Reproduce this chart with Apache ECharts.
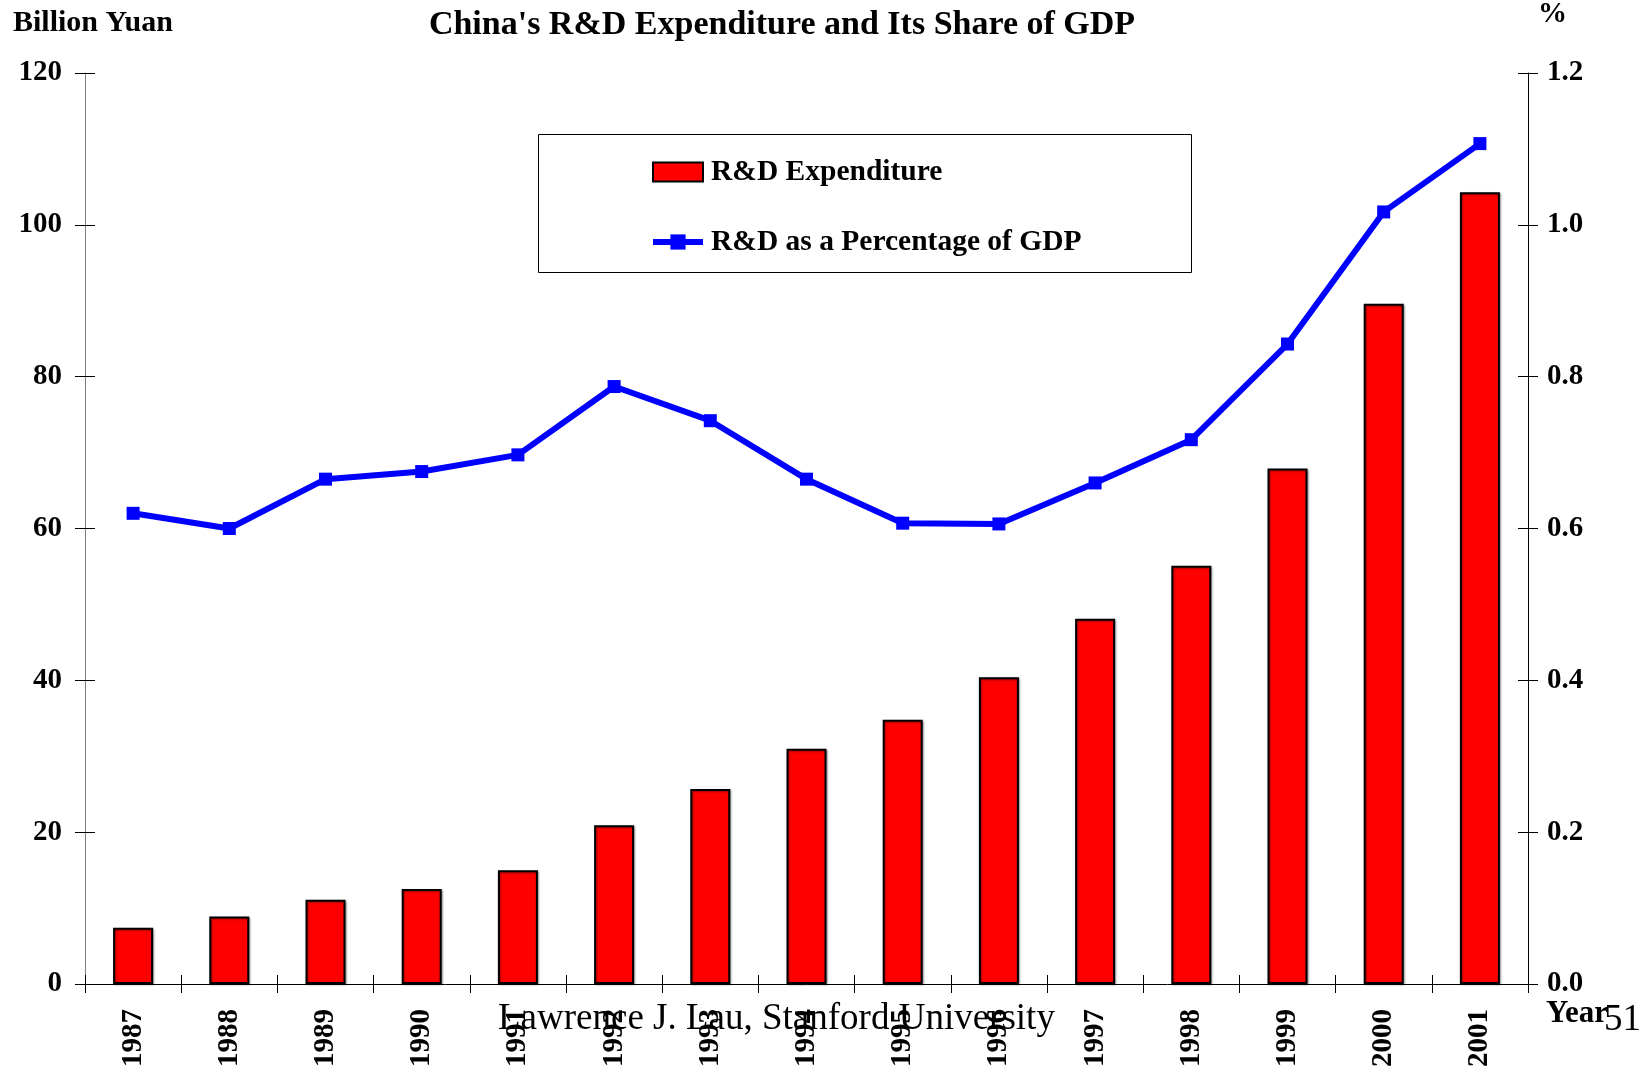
<!DOCTYPE html>
<html>
<head>
<meta charset="utf-8">
<script src="https://cdn.jsdelivr.net/npm/echarts@6/dist/echarts.min.js"></script>
<style>
html,body{margin:0;padding:0;background:#fff;}
#chart{width:1651px;height:1070px;}
</style>
</head>
<body>
<div id="chart"></div>
<script>
const years = ['1987','1988','1989','1990','1991','1992','1993','1994','1995','1996','1997','1998','1999','2000','2001'];
const rdExpenditure = [7.4, 8.9, 11.1, 12.5, 15.0, 20.9, 25.7, 31.0, 34.8, 40.4, 48.1, 55.1, 67.9, 89.6, 104.3];
const rdShareGDP = [0.62, 0.60, 0.665, 0.675, 0.697, 0.787, 0.742, 0.665, 0.607, 0.606, 0.66, 0.717, 0.843, 1.017, 1.107];
const leftTicks = [0, 20, 40, 60, 80, 100, 120];
const rightTicks = ['0.0','0.2','0.4','0.6','0.8','1.0','1.2'];

const FONT = '"Liberation Serif", "DejaVu Serif", serif';
const chart = echarts.init(document.getElementById('chart'));
const grid = {left: 85, right: 123, top: 73, bottom: 86};

chart.setOption({
  animation: false,
  backgroundColor: '#fff',
  textStyle: {fontFamily: FONT},
  title: {
    text: "China's R&D Expenditure and Its Share of GDP",
    left: 777, top: 3, textAlign: 'center',
    textStyle: {fontFamily: FONT, fontWeight: 'bold', fontSize: 34, color: '#000'}
  },
  legend: {
    orient: 'vertical',
    left: 645, top: 152,
    itemWidth: 50, itemHeight: 19,
    itemGap: 40,
    textStyle: {fontFamily: FONT, fontWeight: 'bold', fontSize: 29.5, color: '#000', padding: [0,0,0,3]},
    data: [
      {name: 'R&D Expenditure', icon: 'rect', itemStyle: {borderWidth: 2, borderColor: '#000'}},
      {name: 'R&D as a Percentage of GDP', lineStyle: {width: 6, color: '#0000ff'}}
    ]
  },
  graphic: [
    {type: 'rect', left: 538, top: 134, z: 0, shape: {width: 653, height: 138}, style: {fill: '#fff', stroke: '#000', lineWidth: 1}},
    {type: 'text', left: 13, top: 8, style: {text: 'Billion Yuan', font: 'bold 30px ' + FONT, fill: '#000'}},
    {type: 'text', left: 1538, top: 0, style: {text: '%', font: 'bold 29px ' + FONT, fill: '#000'}},
    {type: 'text', left: 1546, top: 998, style: {text: 'Year', font: 'bold 31px ' + FONT, fill: '#000'}},
    {type: 'text', left: 1604, top: 1002, style: {text: '51', font: '37px ' + FONT, fill: '#000'}},
    {type: 'text', left: 498, top: 1001, z: 100, style: {text: 'Lawrence J. Lau, Stanford University', font: '37px ' + FONT, fill: '#000'}}
  ],
  grid: grid,
  xAxis: [
    {
      type: 'category', data: years, position: 'bottom',
      axisLine: {show: true, lineStyle: {color: '#000', width: 1}},
      axisTick: {show: true, length: 9, lineStyle: {color: '#000'}},
      axisLabel: {rotate: 90, margin: 25, fontFamily: FONT, fontWeight: 'bold', fontSize: 29, color: '#000'}
    },
    {
      type: 'category', data: years, position: 'bottom',
      axisLine: {show: false},
      axisTick: {show: true, inside: true, length: 9, lineStyle: {color: '#000'}},
      axisLabel: {show: false}
    }
  ],
  yAxis: [
    {
      type: 'value', min: 0, max: 120, interval: 20, position: 'left',
      splitLine: {show: false},
      axisLine: {show: true, lineStyle: {color: '#808080', width: 1}},
      axisTick: {show: true, length: 10, lineStyle: {color: '#000'}},
      axisLabel: {margin: 23, fontFamily: FONT, fontWeight: 'bold', fontSize: 29, color: '#000',
        formatter: (v) => String(leftTicks[leftTicks.indexOf(v)])}
    },
    {
      type: 'value', min: 0, max: 1.2, interval: 0.2, position: 'right',
      splitLine: {show: false},
      axisLine: {show: true, lineStyle: {color: '#000', width: 1}},
      axisTick: {show: true, length: 10, lineStyle: {color: '#000'}},
      axisLabel: {margin: 19, fontFamily: FONT, fontWeight: 'bold', fontSize: 29, color: '#000',
        formatter: (v) => rightTicks[Math.round(v / 0.2)]}
    },
    {
      type: 'value', min: 0, max: 120, interval: 20, position: 'left',
      splitLine: {show: false}, axisLine: {show: false},
      axisTick: {show: true, inside: true, length: 10, lineStyle: {color: '#000'}},
      axisLabel: {show: false}
    },
    {
      type: 'value', min: 0, max: 1.2, interval: 0.2, position: 'right',
      splitLine: {show: false}, axisLine: {show: false},
      axisTick: {show: true, inside: true, length: 10, lineStyle: {color: '#000'}},
      axisLabel: {show: false}
    }
  ],
  series: [
    {
      name: 'R&D Expenditure', type: 'bar', xAxisIndex: 0, yAxisIndex: 0,
      data: rdExpenditure, barWidth: 40,
      itemStyle: {color: '#ff0000', borderColor: '#000', borderWidth: 2,
        shadowColor: 'rgba(0,0,0,0.35)', shadowBlur: 2, shadowOffsetX: 1, shadowOffsetY: 1}
    },
    {
      name: 'R&D as a Percentage of GDP', type: 'line', xAxisIndex: 0, yAxisIndex: 1,
      data: rdShareGDP, symbol: 'rect', symbolSize: 13,
      lineStyle: {color: '#0000ff', width: 6},
      itemStyle: {color: '#0000ff'}, z: 5
    }
  ]
});
</script>
</body>
</html>
